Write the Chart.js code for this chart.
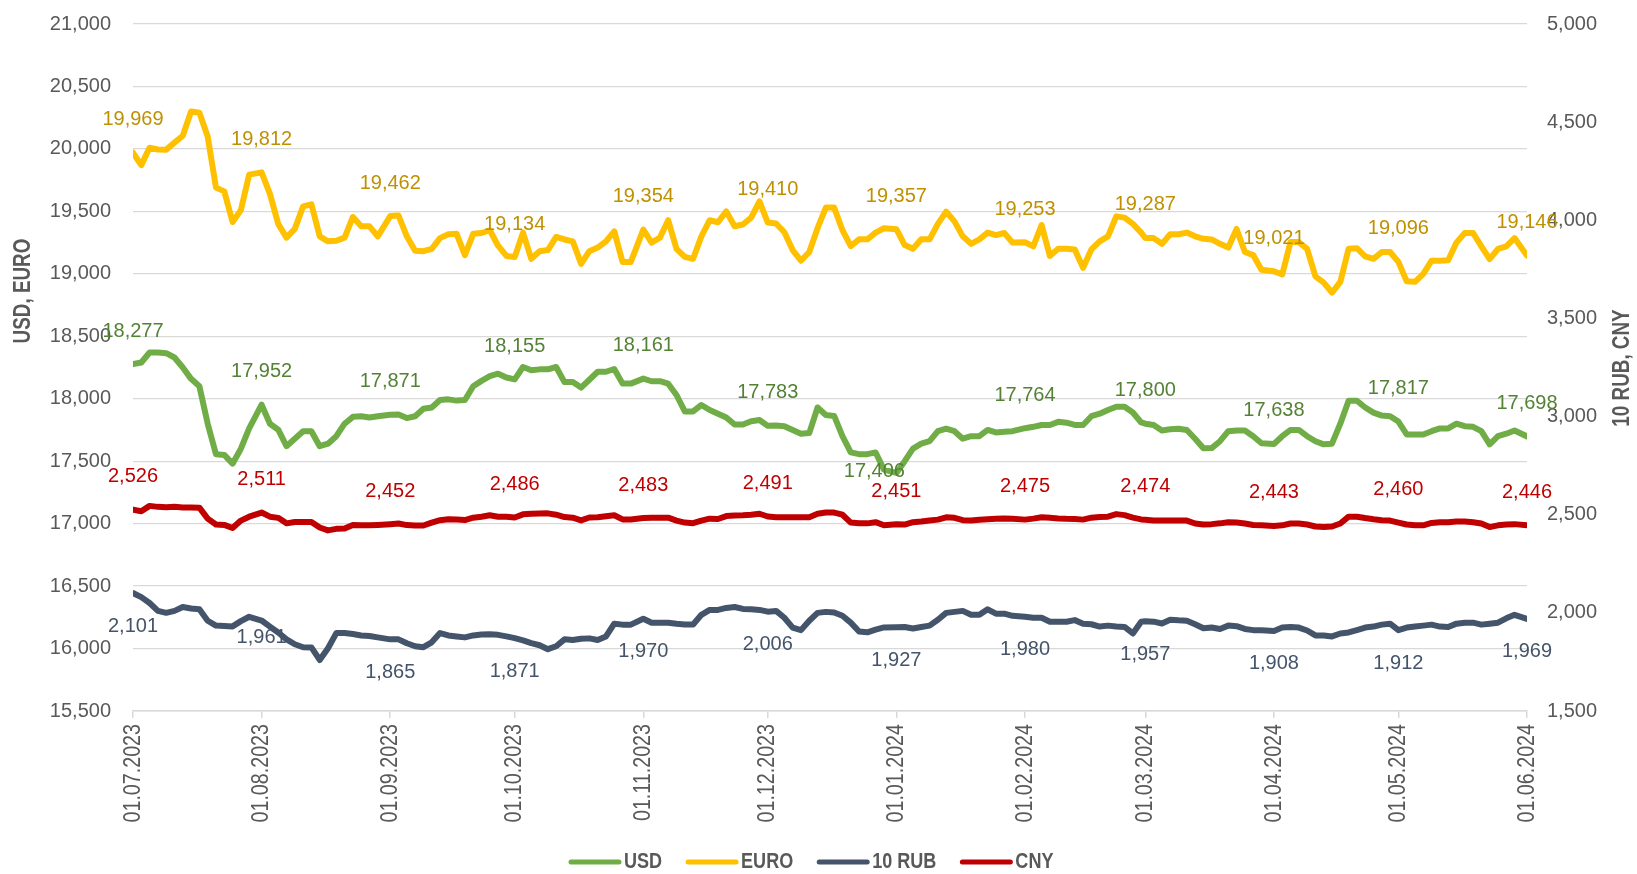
<!DOCTYPE html>
<html>
<head>
<meta charset="utf-8">
<title>Exchange rates</title>
<script src="https://cdn.jsdelivr.net/npm/chart.js@4.4.1/dist/chart.umd.min.js"></script>
<style>
  html, body { margin: 0; padding: 0; background: #fff; }
  #wrap { width: 1637px; height: 874px; position: relative; }
</style>
</head>
<body>
<div id="wrap"><canvas id="chart"></canvas></div>
<script>
// sample dates: every second day of each month, plus the last day shown
const months = ['2023-07', '2023-08', '2023-09', '2023-10', '2023-11', '2023-12',
                '2024-01', '2024-02', '2024-03', '2024-04', '2024-05'];
const sampleDays = [1, 3, 5, 7, 9, 11, 13, 15, 17, 19, 21, 23, 25, 27, 29];
const lastDate = '2024-06-01';

const tickLabels = ['01.07.2023', '01.08.2023', '01.09.2023', '01.10.2023', '01.11.2023', '01.12.2023',
                    '01.01.2024', '01.02.2024', '01.03.2024', '01.04.2024', '01.05.2024', '01.06.2024'];

const seriesNames = ['USD', 'EURO', '10 RUB', 'CNY'];

const usd = [
  18277, 18290, 18370, 18370, 18365, 18330, 18250, 18159, 18100, 17800, 17556, 17550, 17480, 17600, 17762,
  17952, 17800, 17752, 17620, 17680, 17740, 17740, 17620, 17640, 17700, 17800, 17855, 17860, 17850, 17860,
  17871, 17873, 17845, 17860, 17920, 17930, 17990, 17995, 17985, 17990, 18100, 18143, 18180, 18200, 18170,
  18155, 18254, 18228, 18235, 18235, 18254, 18133, 18133, 18089, 18152, 18216, 18216, 18238, 18121, 18121,
  18161, 18140, 18140, 18120, 18030, 17898, 17898, 17950, 17910, 17880, 17850, 17793, 17793, 17820, 17830,
  17783, 17785, 17780, 17750, 17720, 17725, 17930, 17870, 17862, 17700, 17571, 17556, 17556, 17570, 17432,
  17406, 17500, 17600, 17640, 17660, 17740, 17760, 17740, 17680, 17700, 17700, 17750, 17730, 17735, 17740,
  17764, 17775, 17790, 17790, 17815, 17808, 17790, 17790, 17860, 17880, 17910, 17936, 17936, 17890, 17810,
  17800, 17790, 17746, 17755, 17760, 17750, 17680, 17603, 17605, 17660, 17740, 17746, 17746, 17700, 17644,
  17638, 17700, 17750, 17750, 17700, 17660, 17635, 17640, 17800, 17984, 17984, 17930, 17889, 17865, 17860,
  17817, 17714, 17714, 17714, 17740, 17762, 17762, 17800, 17780, 17775, 17740, 17635, 17700, 17720, 17746,
  17698
];

const euro = [
  19969, 19870, 20010, 19995, 19994, 20050, 20105, 20300, 20290, 20100, 19690, 19660, 19415, 19510, 19794,
  19812, 19640, 19400, 19290, 19360, 19540, 19556, 19300, 19260, 19265, 19290, 19455, 19380, 19380, 19300,
  19462, 19467, 19300, 19185, 19181, 19200, 19286, 19317, 19320, 19150, 19320, 19327, 19349, 19225, 19143,
  19134, 19330, 19120, 19181, 19190, 19295, 19275, 19260, 19080, 19181, 19210, 19260, 19340, 19095, 19095,
  19354, 19250, 19290, 19429, 19200, 19136, 19120, 19300, 19429, 19413, 19500, 19381, 19395, 19450, 19580,
  19410, 19403, 19333, 19190, 19105, 19175, 19365, 19530, 19530, 19349, 19222, 19276, 19276, 19330, 19365,
  19357, 19230, 19200, 19276, 19276, 19400, 19498, 19420, 19300, 19240, 19276, 19330, 19310, 19327, 19250,
  19253, 19220, 19390, 19143, 19200, 19200, 19195, 19048, 19195, 19260, 19300, 19460, 19450, 19400, 19330,
  19287, 19286, 19240, 19317, 19317, 19330, 19300, 19280, 19275, 19240, 19210, 19359, 19175, 19150, 19032,
  19021, 18995, 19254, 19254, 19200, 18980, 18930, 18850, 18935, 19200, 19205, 19140, 19120, 19175, 19175,
  19096, 18940, 18936, 19000, 19105, 19105, 19108, 19250, 19327, 19327, 19220, 19118, 19200, 19220, 19286,
  19146
];

const rub10 = [
  2101, 2080, 2050, 2010, 2000, 2010, 2030, 2022, 2018, 1960, 1935, 1933, 1931, 1958, 1980,
  1961, 1930, 1900, 1865, 1840, 1825, 1824, 1760, 1820, 1897, 1897, 1892, 1885, 1882, 1875,
  1865, 1865, 1845, 1830, 1825, 1850, 1897, 1885, 1880, 1875, 1885, 1890, 1891, 1888, 1880,
  1871, 1860, 1846, 1835, 1815, 1830, 1865, 1862, 1868, 1870, 1862, 1880, 1945, 1940, 1940,
  1970, 1950, 1950, 1950, 1945, 1941, 1941, 1990, 2015, 2015, 2025, 2030, 2020, 2018, 2015,
  2006, 2010, 1975, 1925, 1912, 1960, 2000, 2005, 2002, 1985, 1950, 1905, 1901, 1915, 1926,
  1927, 1928, 1920, 1928, 1935, 1965, 2000, 2005, 2010, 1990, 1990, 2018, 1996, 1996, 1985,
  1980, 1975, 1975, 1955, 1955, 1955, 1963, 1945, 1942, 1930, 1935, 1930, 1928, 1895, 1955,
  1957, 1955, 1946, 1965, 1962, 1960, 1942, 1922, 1925, 1918, 1935, 1932, 1918, 1912, 1911,
  1908, 1925, 1928, 1925, 1910, 1885, 1885, 1880, 1895, 1900, 1912, 1925, 1930, 1940, 1945,
  1912, 1925, 1930, 1935, 1940, 1930, 1928, 1945, 1950, 1950, 1940, 1945, 1950, 1972, 1990,
  1969
];

const cny = [
  2526, 2518, 2545, 2540, 2538, 2540, 2537, 2537, 2536, 2480, 2450, 2448, 2432, 2470, 2490,
  2511, 2490, 2484, 2456, 2463, 2463, 2463, 2435, 2420, 2428, 2430, 2448, 2446, 2446, 2448,
  2452, 2455, 2447, 2445, 2445, 2460, 2472, 2477, 2475, 2473, 2485, 2490, 2497, 2490, 2490,
  2486, 2502, 2505, 2506, 2507, 2500, 2488, 2485, 2471, 2486, 2487, 2492, 2497, 2476, 2476,
  2483, 2485, 2485, 2485, 2470, 2460, 2457, 2470, 2480, 2478, 2493, 2496, 2497, 2500, 2505,
  2491, 2487, 2487, 2487, 2487, 2487, 2505, 2511, 2511, 2500, 2460, 2456, 2456, 2462, 2446,
  2451, 2450, 2462, 2465, 2470, 2475, 2487, 2484, 2472, 2470, 2474, 2477, 2479, 2481, 2479,
  2475, 2480, 2487, 2484, 2481, 2479, 2478, 2475, 2485, 2488, 2490, 2503, 2498, 2485, 2476,
  2474, 2470, 2470, 2470, 2470, 2470, 2455, 2450, 2452, 2456, 2462, 2460, 2455, 2448, 2446,
  2443, 2446, 2455, 2455, 2450, 2440, 2438, 2440, 2455, 2490, 2490, 2483, 2477, 2472, 2470,
  2460, 2450, 2446, 2446, 2458, 2462, 2462, 2465, 2465, 2462, 2455, 2437, 2446, 2450, 2452,
  2446
];

// ---- helpers ----
const dates = months.flatMap(m => sampleDays.map(d => m + '-' + String(d).padStart(2, '0'))).concat(lastDate);
const day0 = Date.UTC(2023, 6, 1);
const dayOf = (y, m, d) => (Date.UTC(y, m - 1, d) - day0) / 86400000;
const xDays = dates.map(s => { const p = s.split('-').map(Number); return dayOf(p[0], p[1], p[2]); });
const tickDays = tickLabels.map(s => { const p = s.split('.').map(Number); return dayOf(p[2], p[1], p[0]); });
const isMonthStart = dates.map(s => s.endsWith('-01'));

const GREY = '#595959';
const lineColors = ['#70AD47', '#FFC000', '#44546A', '#C00000'];
const labelColors = ['#548235', '#BF9000', '#44546A', '#C00000'];
const labelOffsets = [-33, -33, 33, -33];
// hand-moved labels in the original: [dataset, date] -> [dx, dy]
const labelNudges = { '0|2024-01-01': [-22, 32], '2|2023-08-01': [0, -16] };
const REG = '"Liberation Sans", Arial, sans-serif';
const NARROW = '"Liberation Sans Narrow", "Arial Narrow", "Liberation Sans", sans-serif';

// draws text in a narrow face; if the narrow face is missing it squeezes the regular one
function narrowText(ctx, text, x, y, size, bold, align, angle) {
  const w = bold ? 'bold ' : '';
  ctx.font = w + size + 'px ' + REG;
  const target = ctx.measureText(text).width * 0.82;
  ctx.font = w + size + 'px ' + NARROW;
  const sx = target / ctx.measureText(text).width;
  ctx.save();
  ctx.translate(x, y);
  if (angle) ctx.rotate(angle);
  ctx.scale(sx, 1);
  ctx.textAlign = align;
  ctx.textBaseline = 'middle';
  ctx.fillText(text, 0, 0);
  ctx.restore();
  return target;
}

const decor = {
  id: 'decor',
  afterDatasetsDraw(chart) {
    const ctx = chart.ctx;
    ctx.save();
    ctx.font = '20px ' + REG;
    ctx.textAlign = 'center';
    ctx.textBaseline = 'middle';
    chart.data.datasets.forEach((ds, di) => {
      const meta = chart.getDatasetMeta(di);
      ctx.fillStyle = labelColors[di];
      ds.data.forEach((p, i) => {
        if (!isMonthStart[i]) return;
        const el = meta.data[i];
        const n = labelNudges[di + '|' + dates[i]] || [0, 0];
        ctx.fillText(p.y.toLocaleString('en-US'), el.x + n[0], el.y + labelOffsets[di] + n[1]);
      });
    });
    ctx.restore();
  },
  afterDraw(chart) {
    const ctx = chart.ctx;
    const xs = chart.scales.x;
    const area = chart.chartArea;
    ctx.save();
    ctx.fillStyle = GREY;
    // x tick labels, turned to read upwards
    tickDays.forEach((d, i) => {
      narrowText(ctx, tickLabels[i], xs.getPixelForValue(d), area.bottom + 13, 24, false, 'right', -Math.PI / 2);
    });
    // axis titles
    narrowText(ctx, 'USD, EURO', 24, 291, 23, true, 'center', -Math.PI / 2);
    narrowText(ctx, '10 RUB, CNY', 1623, 368, 23, true, 'center', -Math.PI / 2);
    // legend
    let x = 568;
    const ly = 862;
    chart.data.datasets.forEach((ds, di) => {
      ctx.strokeStyle = lineColors[di];
      ctx.lineWidth = 5;
      ctx.lineCap = 'round';
      ctx.beginPath();
      ctx.moveTo(x + 3, ly);
      ctx.lineTo(x + 51, ly);
      ctx.stroke();
      ctx.fillStyle = GREY;
      const w = narrowText(ctx, ds.label, x + 56, ly, 22, true, 'left', 0);
      x += 56 + w + 23;
    });
    ctx.restore();
  }
};

const makeSet = (label, values, axis, i) => ({
  label: label,
  data: values.map((v, k) => ({ x: xDays[k], y: v })),
  yAxisID: axis,
  borderColor: lineColors[i],
  backgroundColor: lineColors[i],
  borderWidth: 6,
  pointRadius: 0,
  tension: 0,
  borderJoinStyle: 'round',
  borderCapStyle: 'round'
});

// fixed widths so the plot area lands where it does in the original
const fixY = w => s => { s.width = w; s.paddingTop = 0; s.paddingBottom = 0; };

new Chart(document.getElementById('chart'), {
  type: 'line',
  data: {
    datasets: [
      makeSet(seriesNames[0], usd, 'y', 0),
      makeSet(seriesNames[1], euro, 'y', 1),
      makeSet(seriesNames[2], rub10, 'y1', 2),
      makeSet(seriesNames[3], cny, 'y1', 3)
    ]
  },
  options: {
    responsive: true,
    maintainAspectRatio: false,
    animation: false,
    devicePixelRatio: 1,
    layout: { padding: { top: 24, left: 0, right: 0, bottom: 0 } },
    plugins: { legend: { display: false }, tooltip: { enabled: false } },
    scales: {
      x: {
        type: 'linear',
        min: 0,
        max: tickDays[tickDays.length - 1],
        afterBuildTicks: s => { s.ticks = tickDays.map(v => ({ value: v })); },
        afterFit: s => { s.height = 163; s.paddingLeft = 0; s.paddingRight = 0; },
        ticks: { display: false },
        grid: { drawOnChartArea: false, drawTicks: true, tickLength: 7, color: '#D9D9D9', lineWidth: 1.5 },
        border: { display: true, color: '#D9D9D9', width: 1.5 }
      },
      y: {
        position: 'left',
        min: 15500,
        max: 21000,
        afterFit: fixY(133),
        ticks: {
          stepSize: 500,
          padding: 22,
          color: GREY,
          font: { family: REG, size: 20 },
          callback: v => v.toLocaleString('en-US')
        },
        grid: { color: '#D9D9D9', lineWidth: 1.3, drawTicks: false },
        border: { display: false }
      },
      y1: {
        position: 'right',
        min: 1500,
        max: 5000,
        afterFit: fixY(110),
        ticks: {
          stepSize: 500,
          padding: 20,
          color: GREY,
          font: { family: REG, size: 20 },
          callback: v => v.toLocaleString('en-US')
        },
        grid: { drawOnChartArea: false, drawTicks: false },
        border: { display: false }
      }
    }
  },
  plugins: [decor]
});
</script>
</body>
</html>
